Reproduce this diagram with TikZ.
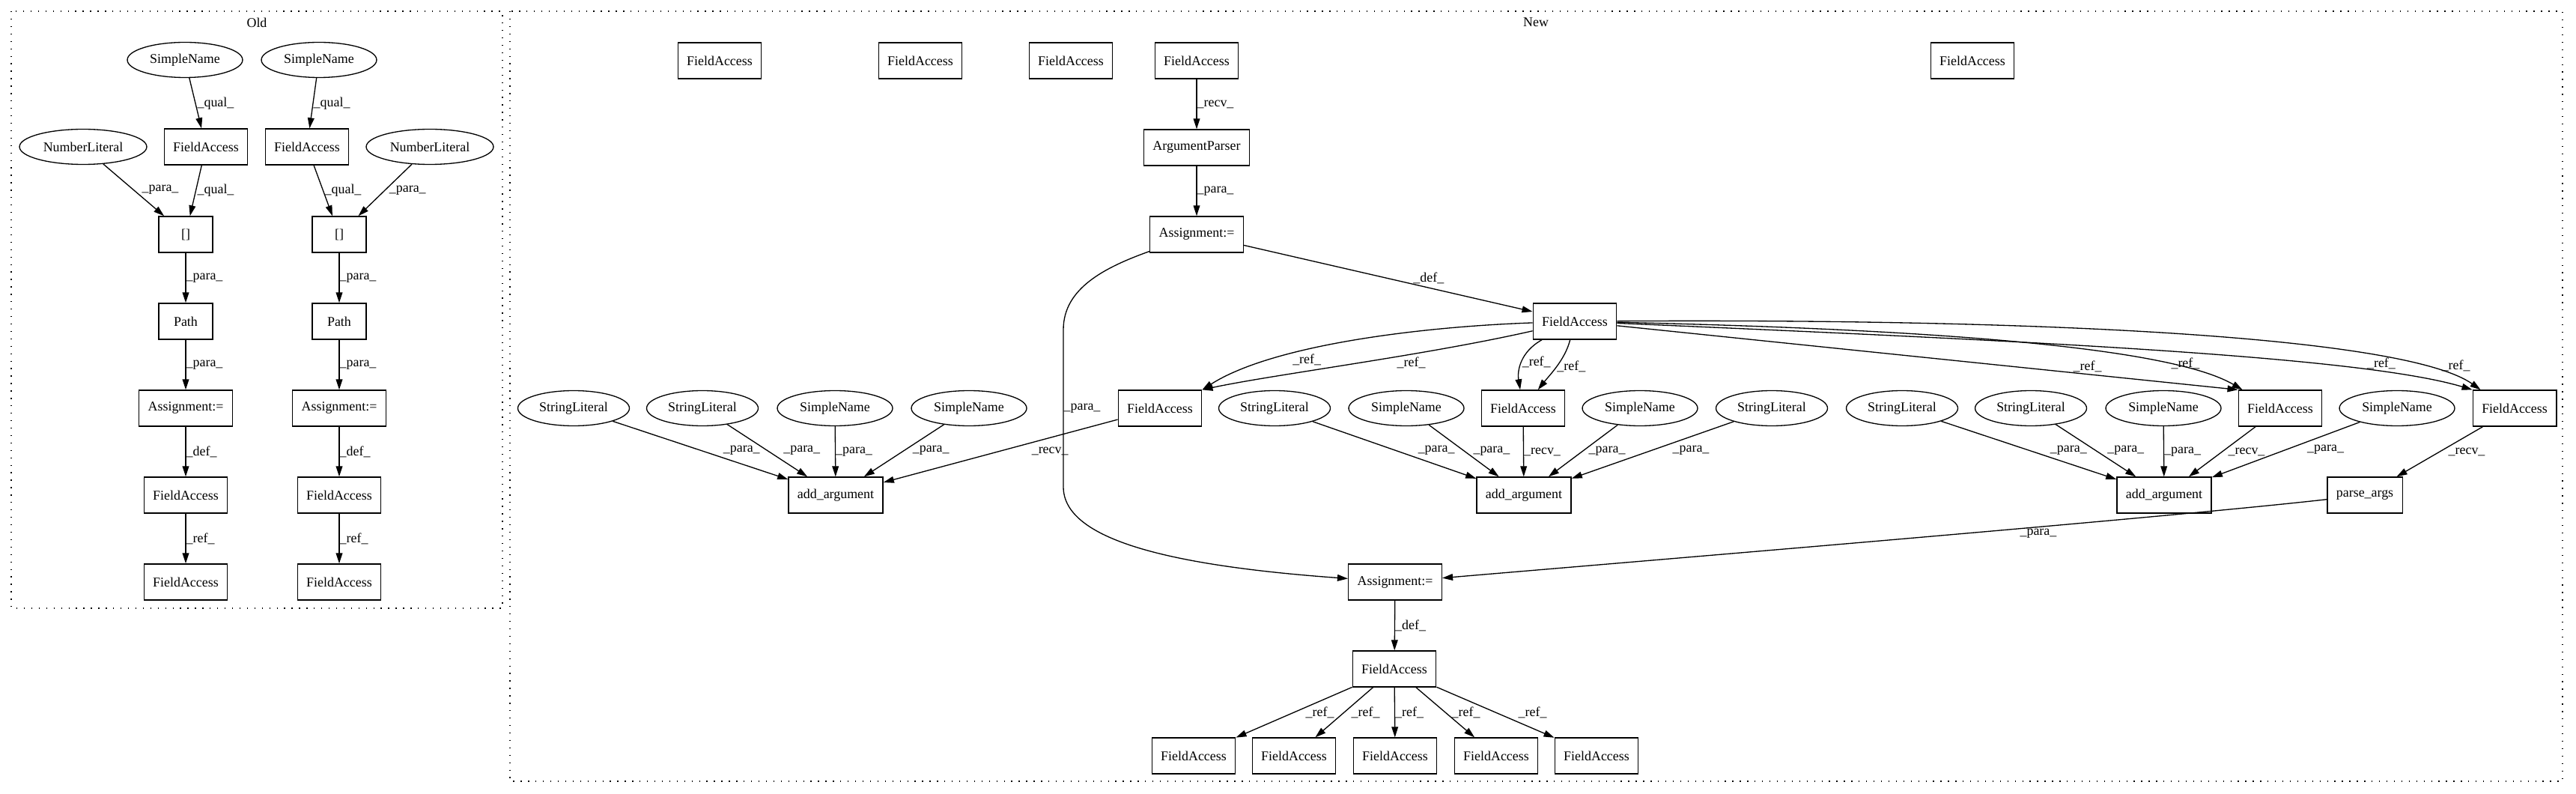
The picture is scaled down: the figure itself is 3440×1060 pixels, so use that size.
\documentclass[tikz,border=0pt]{standalone}
\usepackage{fontspec}
\setmainfont{Liberation Serif}
\usetikzlibrary{shapes.geometric,arrows.meta}

\begin{document}
\begin{tikzpicture}[x=0.02cm, y=-0.02cm, line width=0.75pt,
    >={Triangle[length=8pt,width=5pt]},
    font=\fontsize{10.2}{12}\selectfont,
    box/.style={draw, rectangle, minimum width=1.44cm, minimum height=0.96cm, inner xsep=0.24cm},
    sname/.style={draw, ellipse, minimum width=3.08cm, minimum height=0.94cm},
    slit/.style={draw, ellipse, minimum width=2.98cm, minimum height=0.94cm},
    nlit/.style={draw, ellipse, minimum width=3.4cm, minimum height=0.94cm},
    lbl/.style={anchor=west, inner sep=0pt},
    cluster/.style={dash pattern=on 0.75pt off 4.9pt}]
      \path[use as bounding box] (0,0) rectangle (3440,1060);

      \draw[cluster] (15,15) rectangle (671,812);
      \node (oldtitle) at (343,30) {Old};

      \draw[cluster] (681,15) rectangle (3422,1043);
      \node (newtitle) at (2051,30) {New};

      \node[sname] (osn1) at (247,80) {SimpleName};
      \node[sname] (osn2) at (426,80) {SimpleName};
      \node[nlit] (onl1) at (111,196) {NumberLiteral};
      \node[box] (ofa1) at (275,196) {FieldAccess};
      \node[box] (ofa2) at (410,196) {FieldAccess};
      \node[nlit] (onl2) at (574,196) {NumberLiteral};
      \node[box] (oidx1) at (248,313) {[]};
      \node[box] (oidx2) at (453,313) {[]};
      \node[box] (opath1) at (248,429) {Path};
      \node[box] (opath2) at (453,429) {Path};
      \node[box] (oasg1) at (248,545) {Assignment:=};
      \node[box] (oasg2) at (453,545) {Assignment:=};
      \node[box] (ofa3) at (248,661) {FieldAccess};
      \node[box] (ofa4) at (453,661) {FieldAccess};
      \node[box] (ofa5) at (248,777) {FieldAccess};
      \node[box] (ofa6) at (453,777) {FieldAccess};

      \draw[->] (osn1) -- node[lbl, xshift=0.4mm] {\_qual\_} (ofa1);
      \draw[->] (onl1) -- node[lbl, xshift=2.1mm] {\_para\_} (oidx1);
      \draw[->] (ofa1) -- node[lbl, xshift=0.3mm] {\_qual\_} (oidx1);
      \draw[->] (oidx1) -- node[lbl] {\_para\_} (opath1);
      \draw[->] (opath1) -- node[lbl] {\_para\_} (oasg1);
      \draw[->] (oasg1) -- node[lbl] {\_def\_} (ofa3);
      \draw[->] (ofa3) -- node[lbl] {\_ref\_} (ofa5);

      \draw[->] (osn2) -- node[lbl] {\_qual\_} (ofa2);
      \draw[->] (ofa2) -- node[lbl, xshift=0.3mm] {\_qual\_} (oidx2);
      \draw[->] (onl2) -- node[lbl, xshift=1mm] {\_para\_} (oidx2);
      \draw[->] (oidx2) -- node[lbl] {\_para\_} (opath2);
      \draw[->] (opath2) -- node[lbl] {\_para\_} (oasg2);
      \draw[->] (oasg2) -- node[lbl] {\_def\_} (ofa4);
      \draw[->] (ofa4) -- node[lbl] {\_ref\_} (ofa6);

      \node[box] (nfa1) at (961,81) {FieldAccess};
      \node[box] (nfa2) at (1229,81) {FieldAccess};
      \node[box] (nfa3) at (1430,81) {FieldAccess};
      \node[box] (nfa4) at (1598,81) {FieldAccess};
      \node[box] (nfa5) at (2634,81) {FieldAccess};
      \node[box] (nparser) at (1598,197) {ArgumentParser};
      \node[box] (nasg1) at (1598,313) {Assignment:=};
      \node[box] (nfamain) at (2103,429) {FieldAccess};

      \node[slit] (nsl1) at (766,545) {StringLiteral};
      \node[slit] (nsl2) at (938,545) {StringLiteral};
      \node[sname] (nsn1) at (1115,545) {SimpleName};
      \node[sname] (nsn2) at (1294,545) {SimpleName};
      \node[box] (nfa6) at (1549,545) {FieldAccess};
      \node[slit] (nsl3) at (1702,545) {StringLiteral};
      \node[sname] (nsn3) at (1878,545) {SimpleName};
      \node[box] (nfa7) at (2034,545) {FieldAccess};
      \node[sname] (nsn4) at (2190,545) {SimpleName};
      \node[slit] (nsl4) at (2366,545) {StringLiteral};
      \node[slit] (nsl5) at (2540,545) {StringLiteral};
      \node[slit] (nsl6) at (2712,545) {StringLiteral};
      \node[sname] (nsn5) at (2889,545) {SimpleName};
      \node[box] (nfa8) at (3045,545) {FieldAccess};
      \node[sname] (nsn6) at (3201,545) {SimpleName};
      \node[box] (nfa9) at (3358,545) {FieldAccess};

      \node[box] (nadd1) at (1116,661) {add\_argument};
      \node[box] (nadd2) at (2035,661) {add\_argument};
      \node[box] (nadd3) at (2890,661) {add\_argument};
      \node[box] (nparse) at (3158,661) {parse\_args};

      \node[box] (nasg2) at (1863,777) {Assignment:=};
      \node[box] (nfa10) at (1862,893) {FieldAccess};
      \node[box] (nfa11) at (1594,1009) {FieldAccess};
      \node[box] (nfa12) at (1728,1009) {FieldAccess};
      \node[box] (nfa13) at (1863,1009) {FieldAccess};
      \node[box] (nfa14) at (1998,1009) {FieldAccess};
      \node[box] (nfa15) at (2132,1009) {FieldAccess};

      \draw[->] (nfa4) -- node[lbl] {\_recv\_} (nparser);
      \draw[->] (nparser) -- node[lbl] {\_para\_} (nasg1);
      \draw[->] (nasg1) -- node[lbl, xshift=6.6mm] {\_def\_} (nfamain);
      \draw[->] (nasg1) .. controls (1475,357) and (1420,385) .. (1420,440)
        -- node[lbl] {\_para\_} (1420,650)
        .. controls (1420,720) and (1560,755) .. (nasg2);

      \draw[->] (nfamain) .. controls (1900,436) and (1700,460) .. (nfa6.north east)
        node[pos=0.675, anchor=north west, inner sep=0pt] {\_ref\_};
      \draw[->] (nfamain) .. controls (1900,475) and (1700,500) .. (nfa6.north east)
        node[pos=0.38, anchor=north west, inner sep=0pt] {\_ref\_};
      \draw[->] (nfamain) .. controls (2030,470) and (2026,495) .. (nfa7)
        node[lbl, pos=0.5] {\_ref\_};
      \draw[->] (nfamain) .. controls (2090,480) and (2070,500) .. (nfa7)
        node[lbl, pos=0.5] {\_ref\_};
      \draw[->] (nfamain) -- node[pos=0.734, anchor=south west, inner sep=0pt] {\_ref\_} (nfa8.north west);
      \draw[->] (nfamain) .. controls (2600,440) and (2900,465) .. ([xshift=1.2mm]nfa8.north west)
        node[lbl, pos=0.76, xshift=1.4mm] {\_ref\_};
      \draw[->] (nfamain) .. controls (2700,455) and (3150,475) .. (nfa9.north west)
        node[pos=0.78, anchor=south west, inner sep=0pt] {\_ref\_};
      \draw[->] (nfamain) .. controls (2800,425) and (3220,455) .. ([xshift=2.2mm]nfa9.north west)
        node[pos=0.87, anchor=south west, inner sep=0pt] {\_ref\_};

      \draw[->] (nsl1) -- node[lbl, xshift=6mm] {\_para\_} (nadd1);
      \draw[->] (nsl2) -- node[lbl, xshift=4.2mm] {\_para\_} (nadd1);
      \draw[->] (nsn1) -- node[lbl] {\_para\_} (nadd1);
      \draw[->] (nsn2) -- node[lbl, xshift=2.2mm] {\_para\_} (nadd1);
      \draw[->] (nfa6) -- node[lbl, xshift=8.2mm] {\_recv\_} (nadd1);

      \draw[->] (nsl3) -- node[lbl, xshift=6.2mm] {\_para\_} (nadd2);
      \draw[->] (nsn3) -- node[lbl, xshift=2.4mm] {\_para\_} (nadd2);
      \draw[->] (nfa7) -- node[lbl] {\_recv\_} (nadd2);
      \draw[->] (nsn4) -- node[lbl, xshift=1.4mm] {\_para\_} (nadd2);
      \draw[->] (nsl4) -- node[lbl, xshift=5.2mm] {\_para\_} (nadd2);

      \draw[->] (nsl5) -- node[lbl, xshift=5.6mm] {\_para\_} (nadd3);
      \draw[->] (nsl6) -- node[lbl, xshift=3mm] {\_para\_} (nadd3);
      \draw[->] (nsn5) -- node[lbl] {\_para\_} (nadd3);
      \draw[->] (nfa8) -- node[lbl, xshift=1.5mm] {\_recv\_} (nadd3);
      \draw[->] (nsn6) -- node[lbl, xshift=5.6mm] {\_para\_} (nadd3);
      \draw[->] (nfa9) -- node[lbl, xshift=2.2mm] {\_recv\_} (nparse);

      \draw[->] (nparse) .. controls (2900,690) and (2300,740) .. (nasg2)
        node[pos=0.41, anchor=north west, inner sep=0pt] {\_para\_};
      \draw[->] (nasg2) -- node[lbl] {\_def\_} (nfa10);

      \draw[->] (nfa10) -- node[lbl, xshift=3mm] {\_ref\_} (nfa11);
      \draw[->] (nfa10) -- node[lbl, xshift=1.8mm] {\_ref\_} (nfa12);
      \draw[->] (nfa10) -- node[lbl] {\_ref\_} (nfa13);
      \draw[->] (nfa10) -- node[lbl, xshift=1.6mm] {\_ref\_} (nfa14);
      \draw[->] (nfa10) -- node[lbl, xshift=6mm] {\_ref\_} (nfa15);

    \end{tikzpicture}
\end{document}
